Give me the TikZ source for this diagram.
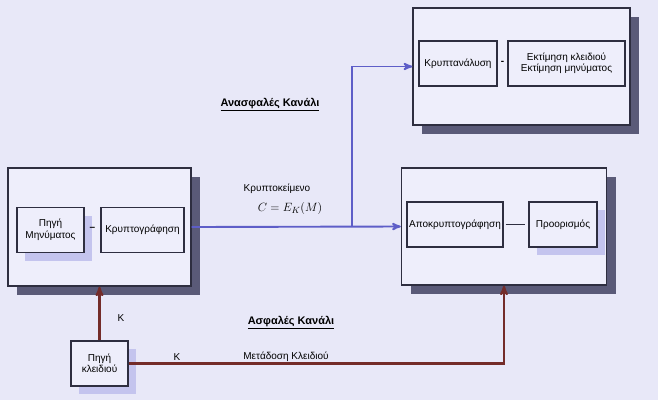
\documentclass[tikz,border=0pt]{standalone}
\usepackage{fontspec}
\setmainfont{Liberation Sans}
\usetikzlibrary{arrows,shadows}

\definecolor{bgcol}{HTML}{E8E8F8}
\definecolor{boxfill}{HTML}{EEEEFB}
\definecolor{boxline}{HTML}{2E2E40}
\definecolor{darkshade}{HTML}{5A5A78}
\definecolor{softshade}{HTML}{C4C4EE}
\definecolor{openblue}{HTML}{5E5EC8}
\definecolor{keybrown}{HTML}{742C2A}

\begin{document}
\begin{tikzpicture}[x=1pt,y=-1pt,font=\fontsize{10}{11.5}\selectfont,>=stealth',
        bigbox/.style={draw=boxline,fill=boxfill,line width=1.4pt,inner sep=0pt,
            drop shadow={shadow xshift=9pt,shadow yshift=-9pt,fill=darkshade,opacity=1}},
        smallbox/.style={draw=boxline,fill=boxfill,line width=1.1pt,inner sep=1pt,
            align=center,minimum height=45pt},
        softshadow/.style={drop shadow={shadow xshift=8pt,shadow yshift=-8pt,fill=softshade,opacity=1}},
        openline/.style={draw=openblue,line width=1.9pt},
        keyline/.style={draw=keybrown,line width=2.1pt},
        channel/.style={font=\fontsize{11}{13}\selectfont\bfseries}]
    \useasboundingbox (0,0) rectangle (658,400);
    \fill[bgcol] (0,0) rectangle (658,400);

    % sender
    \node[bigbox,minimum width=183pt,minimum height=118pt] (sender) at (99.5,227) {};
    \node[smallbox,softshadow,minimum width=67pt] (msgsrc) at (50.5,230) {Πηγή\\Μηνύματος};
    \node[smallbox,minimum width=83pt] (encrypt) at (142.5,230) {Κρυπτογράφηση};
    \node[font=\bfseries] (dashS) at (92.5,229) {–};

    % receiver
    \node[bigbox,minimum width=205pt,minimum height=117pt] (receiver) at (504,226.5) {};
    \node[smallbox,minimum width=96pt] (decrypt) at (455,224.5) {Αποκρυπτογράφηση};
    \node[smallbox,softshadow,minimum width=68pt] (dest) at (563,224.5) {Προορισμός};
    \draw[boxline,line width=1.1pt,shorten <=2pt,shorten >=3pt] (decrypt) -- (dest);

    % attacker
    \node[bigbox,minimum width=217pt,minimum height=117pt] (attacker) at (521.5,66.5) {};
    \node[smallbox,minimum width=78pt] (cryptan) at (458,63.5) {Κρυπτανάλυση};
    \node[smallbox,minimum width=117pt] (estimate) at (566.5,63.5) {Εκτίμηση κλειδιού\\Εκτίμηση μηνύματος};
    \node[font=\bfseries] (dashA) at (502.5,63) {-};

    % key source
    \node[smallbox,softshadow,minimum width=57pt] (keysrc) at (99.5,363.5) {Πηγή\\κλειδιού};

    % insecure channel
    \coordinate (branch) at (352,227);
    \draw[openline,->] (sender.east) -- (receiver.west);
    \draw[openline,->] (branch) |- (attacker.west);
    \node[channel] (insecure) at (270,105) {\underline{Ανασφαλές Κανάλι}};
    \node (ctext) at (277,189) {Κρυπτοκείμενο};
    \node[font=\fontsize{13}{15}\selectfont] (cform) at (290,208) {$C = E_K(M)$};

    % secure channel
    \draw[keyline,->] (keysrc.north) -- (sender.south);
    \draw[keyline,->] (keysrc.east) -| (receiver.south);
    \node (kup) at (121,318) {K};
    \node (kright) at (177,357) {K};
    \node (keytx) at (286,357) {Μετάδοση Κλειδιού};
    \node[channel] (secure) at (291,323) {\underline{Ασφαλές Κανάλι}};
\end{tikzpicture}
\end{document}
